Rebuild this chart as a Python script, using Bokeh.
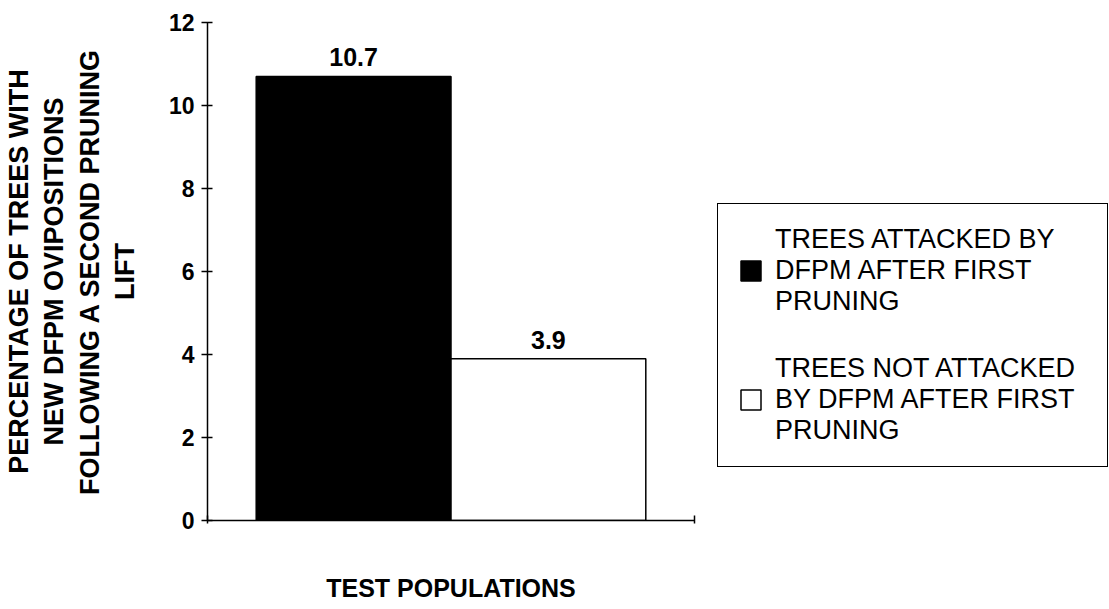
from bokeh.plotting import figure
from bokeh.models import Range1d, FixedTicker, Legend, LegendItem, ColumnDataSource
from bokeh.core.properties import value
from bokeh.embed import file_html
from bokeh.resources import INLINE

# ---- data ----
series_names = [
    "TREES ATTACKED BY\nDFPM AFTER FIRST\nPRUNING",
    "TREES NOT ATTACKED\nBY DFPM AFTER FIRST\nPRUNING",
]
values = [10.7, 3.9]
value_labels = ["10.7", "3.9"]
y_ticks = [0, 2, 4, 6, 8, 10, 12]
x_title = "TEST POPULATIONS"
y_title = "PERCENTAGE OF TREES WITH\nNEW DFPM OVIPOSITIONS\nFOLLOWING A SECOND PRUNING\nLIFT"

# ---- styles ----
fills = ["black", "white"]
FONT = "Liberation Sans"
pad = 0.25

x_range = Range1d(-pad, len(values) + pad)
p = figure(frame_width=487, frame_height=498, x_range=x_range, y_range=Range1d(0, 12),
           output_backend="svg", toolbar_location=None,
           min_border_left=200, min_border_right=10,
           min_border_top=22, min_border_bottom=80)
p.outline_line_color = None
p.xgrid.grid_line_color = None
p.ygrid.grid_line_color = None
p.background_fill_color = "white"
p.border_fill_color = "white"

items = []
for i, (name, v, fc) in enumerate(zip(series_names, values, fills)):
    src = ColumnDataSource(dict(x=[i + 0.5], top=[v], lab=[value_labels[i]]))
    r = p.vbar(x="x", top="top", bottom=0, width=1.0, source=src,
               fill_color=fc, line_color="black", line_width=1.5)
    p.text(x="x", y="top", text="lab", source=src, y_offset=-10,
           text_align="center", text_baseline="bottom",
           text_font=value(FONT), text_font_style="bold",
           text_font_size="25px", text_color="black")
    items.append(LegendItem(label=name, renderers=[r]))

# y axis
ya = p.yaxis[0]
ya.ticker = FixedTicker(ticks=y_ticks)
ya.axis_line_width = 1.5
ya.axis_line_color = "black"
ya.major_tick_in = 5
ya.major_tick_out = 6
ya.major_tick_line_width = 1.5
ya.minor_tick_line_color = None
ya.major_label_standoff = 7
ya.major_label_text_font = FONT
ya.major_label_text_font_style = "bold"
ya.major_label_text_font_size = "23px"
ya.major_label_text_color = "black"
ya.axis_label = y_title
ya.axis_label_text_font = FONT
ya.axis_label_text_font_style = "bold"
ya.axis_label_text_font_size = "27px"
ya.axis_label_text_color = "black"
ya.axis_label_standoff = 26
ya.axis_label_text_line_height = 1.18

# x axis
xa = p.xaxis[0]
xa.ticker = FixedTicker(ticks=[x_range.start, x_range.end])
xa.axis_line_width = 1.5
xa.axis_line_color = "black"
xa.major_tick_in = 5
xa.major_tick_out = 3
xa.major_tick_line_width = 1.5
xa.minor_tick_line_color = None
xa.major_label_overrides = {x_range.start: "", x_range.end: ""}
xa.major_label_standoff = 0
xa.axis_label = x_title
xa.axis_label_text_font = FONT
xa.axis_label_text_font_style = "bold"
xa.axis_label_text_font_size = "25px"
xa.axis_label_text_color = "black"
xa.axis_label_standoff = 50

legend = Legend(items=items, location=(23, 53), orientation="vertical",
                border_line_color="black", border_line_width=1.5,
                border_line_alpha=1.0,
                background_fill_color="white", background_fill_alpha=1.0,
                padding=20, spacing=36, margin=0,
                glyph_width=25, glyph_height=25, label_standoff=12,
                label_width=312,
                label_text_font=FONT, label_text_font_size="27px",
                label_text_color="black", label_text_line_height=1.3)
p.add_layout(legend, "right")

open("out.html", "w").write(file_html(p, INLINE))
